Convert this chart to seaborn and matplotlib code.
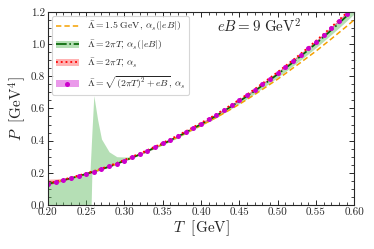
import numpy as np
import matplotlib
matplotlib.use("Agg")
import matplotlib.pyplot as plt
from matplotlib.lines import Line2D
from matplotlib.patches import Patch
from matplotlib.ticker import MultipleLocator
import seaborn as sns
import pandas as pd

# ---------------- data ----------------
T = [0.20, 0.21, 0.22, 0.23, 0.24, 0.25, 0.26, 0.27, 0.28, 0.29, 0.30,
     0.31, 0.32, 0.33, 0.34, 0.35, 0.36, 0.37, 0.38, 0.39, 0.40,
     0.41, 0.42, 0.43, 0.44, 0.45, 0.46, 0.47, 0.48, 0.49, 0.50,
     0.51, 0.52, 0.53, 0.54, 0.55, 0.56, 0.57, 0.58, 0.59, 0.60]

P_orange = [.130, .141, .153, .166, .179, .193, .207, .222, .238, .256, .275,
            .294, .314, .334, .355, .377, .399, .422, .446, .471, .494,
            .519, .544, .571, .598, .626, .656, .686, .718, .750, .782,
            .816, .851, .885, .921, .956, .994, 1.032, 1.071, 1.110, 1.151]

P_green = [.131, .142, .154, .166, .179, .193, .207, .222, .238, .256, .275,
           .294, .314, .335, .357, .379, .402, .426, .451, .476, .502,
           .528, .555, .584, .614, .644, .676, .708, .742, .777, .812,
           .849, .886, .924, .963, 1.003, 1.044, 1.086, 1.129, 1.173, 1.218]

T_green_band = [0.20, 0.21, 0.22, 0.23, 0.24, 0.25, 0.255, 0.2565, 0.2575, 0.26,
                0.265, 0.27, 0.28, 0.29, 0.30, 0.31, 0.32, 0.33, 0.34, 0.35,
                0.36, 0.37, 0.38, 0.39, 0.40, 0.41, 0.42, 0.43, 0.44, 0.45,
                0.46, 0.47, 0.48, 0.49, 0.50, 0.51, 0.52, 0.53, 0.54, 0.55,
                0.56, 0.57, 0.58, 0.59, 0.60]
green_hi = [.135, .146, .158, .170, .183, .197, .205, .35, .45, .68,
            .53, .41, .33, .30, .298, .300, .319, .340, .362, .385,
            .408, .432, .457, .483, .509, .536, .563, .593, .623, .654,
            .686, .719, .754, .789, .825, .862, .900, .938, .978, 1.019,
            1.061, 1.104, 1.148, 1.193, 1.239]
green_lo = [0, 0, 0, 0, 0, 0, 0, 0, .204, .205,
            .212, .220, .236, .254, .272, .291, .310, .330, .351, .373,
            .395, .418, .442, .467, .492, .518, .543, .572, .600, .630,
            .660, .692, .725, .759, .793, .829, .865, .901, .939, .978,
            1.018, 1.059, 1.101, 1.144, 1.188]

P_red = [.134, .145, .157, .170, .183, .197, .211, .226, .243, .261, .280,
         .300, .320, .341, .363, .386, .409, .433, .458, .484, .510,
         .537, .564, .594, .624, .655, .687, .720, .755, .790, .826,
         .863, .901, .939, .979, 1.020, 1.062, 1.105, 1.149, 1.194, 1.240]
red_lo = [.124, .137, .150, .164, .178, .192, .206, .221, .238, .256, .275,
          .295, .315, .336, .358, .381, .404, .428, .453, .479, .505,
          .532, .559, .589, .619, .650, .682, .715, .750, .785, .821,
          .858, .896, .934, .974, 1.015, 1.057, 1.100, 1.144, 1.189, 1.235]
red_hi = [.160, .162, .166, .174, .186, .201, .216, .231, .248, .266, .285,
          .305, .325, .346, .368, .391, .414, .438, .463, .489, .515,
          .542, .569, .599, .629, .660, .692, .725, .760, .795, .831,
          .868, .906, .944, .984, 1.025, 1.067, 1.110, 1.154, 1.199, 1.245]

P_magenta = [.130, .141, .153, .166, .179, .193, .207, .222, .239, .257, .276,
             .296, .316, .337, .359, .382, .405, .429, .454, .480, .506,
             .533, .560, .590, .620, .651, .683, .716, .751, .786, .822,
             .859, .897, .935, .975, 1.016, 1.058, 1.101, 1.145, 1.190, 1.236]
magenta_err = [.004] * len(T)

labels = [r"$\bar{\Lambda} = 1.5\ \mathrm{GeV},\, \alpha_s(|eB|)$",
          r"$\bar{\Lambda} = 2\pi T,\, \alpha_s(|eB|)$",
          r"$\bar{\Lambda} = 2\pi T,\, \alpha_s$",
          r"$\bar{\Lambda} = \sqrt{(2\pi T)^2 + eB},\, \alpha_s$"]

# ---------------- style ----------------
sns.set_style("ticks")
plt.rcParams["font.family"] = ["serif"]
plt.rcParams["font.serif"] = ["cmr10", "DejaVu Serif"]
plt.rcParams["mathtext.fontset"] = "cm"
plt.rcParams["axes.formatter.use_mathtext"] = True
plt.rcParams["axes.unicode_minus"] = False

c_orange = "#f5a000"
c_green_band = "#5cb85c"
c_green_line = "#006400"
c_red = "#ff0000"
c_mag = "#cc00cc"

fig, ax = plt.subplots(figsize=(3.74, 2.49), dpi=100)
fig.subplots_adjust(left=0.128, right=0.947, bottom=0.177, top=0.952)

df = pd.DataFrame({"T": T, "orange": P_orange, "green": P_green,
                   "red": P_red, "magenta": P_magenta})
mag_lo = [p - e for p, e in zip(P_magenta, magenta_err)]
mag_hi = [p + e for p, e in zip(P_magenta, magenta_err)]

sns.lineplot(data=df, x="T", y="orange", ax=ax, color=c_orange,
             linestyle=(0, (3.5, 2)), linewidth=1.1)
ax.fill_between(T_green_band, green_lo, green_hi, color=c_green_band,
                alpha=0.45, linewidth=0)
sns.lineplot(data=df, x="T", y="green", ax=ax, color=c_green_line,
             linestyle="-.", linewidth=1.2)
ax.fill_between(T, red_lo, red_hi, color=c_red, alpha=0.3, linewidth=0)
sns.lineplot(data=df, x="T", y="red", ax=ax, color=c_red,
             linestyle=":", linewidth=1.3)
ax.fill_between(T, mag_lo, mag_hi, color=c_mag, alpha=0.4, linewidth=0)
sns.lineplot(data=df, x="T", y="magenta", ax=ax, color=c_mag,
             linestyle="none", marker="o", markersize=3.6,
             markeredgewidth=0)

ax.set_xlim(0.20, 0.60)
ax.set_ylim(0.0, 1.2)
ax.xaxis.set_major_locator(MultipleLocator(0.05))
ax.xaxis.set_minor_locator(MultipleLocator(0.01))
ax.yaxis.set_major_locator(MultipleLocator(0.2))
ax.yaxis.set_minor_locator(MultipleLocator(0.05))
ax.xaxis.set_major_formatter(matplotlib.ticker.FormatStrFormatter("%.2f"))
ax.yaxis.set_major_formatter(matplotlib.ticker.FormatStrFormatter("%.1f"))
ax.tick_params(which="both", direction="in", top=True, right=True,
               labelsize=8, pad=2)
ax.tick_params(which="major", length=3.5, width=0.7)
ax.tick_params(which="minor", length=2, width=0.6)
for s in ax.spines.values():
    s.set_linewidth(0.8)

ax.set_xlabel(r"$T\ \ [\mathrm{GeV}]$", fontsize=11, labelpad=1)
ax.set_ylabel(r"$P\ \ [\mathrm{GeV}^4]$", fontsize=11, labelpad=2)

ax.text(0.69, 0.922, r"$eB = 9\ \mathrm{GeV}^2$", transform=ax.transAxes,
        ha="center", va="center", fontsize=10.8)

handles = [
    Line2D([], [], color=c_orange, linestyle=(0, (3.5, 2)), linewidth=1.1),
    (Patch(facecolor=c_green_band, alpha=0.45, edgecolor="none"),
     Line2D([], [], color=c_green_line, linestyle="-.", linewidth=1.2)),
    (Patch(facecolor=c_red, alpha=0.3, edgecolor="none"),
     Line2D([], [], color=c_red, linestyle=":", linewidth=1.3)),
    (Patch(facecolor=c_mag, alpha=0.4, edgecolor="none"),
     Line2D([], [], color=c_mag, linestyle="none", marker="o",
            markersize=3.6, markeredgewidth=0)),
]
leg = ax.legend(handles, labels, loc="upper left", fontsize=7,
                handlelength=2.4, frameon=True, fancybox=True,
                borderaxespad=0.4, labelspacing=0.5, borderpad=0.4,
                handletextpad=0.8)
leg.get_frame().set_edgecolor("#cccccc")
leg.get_frame().set_linewidth(0.8)

fig.savefig("out.png", dpi=100)
